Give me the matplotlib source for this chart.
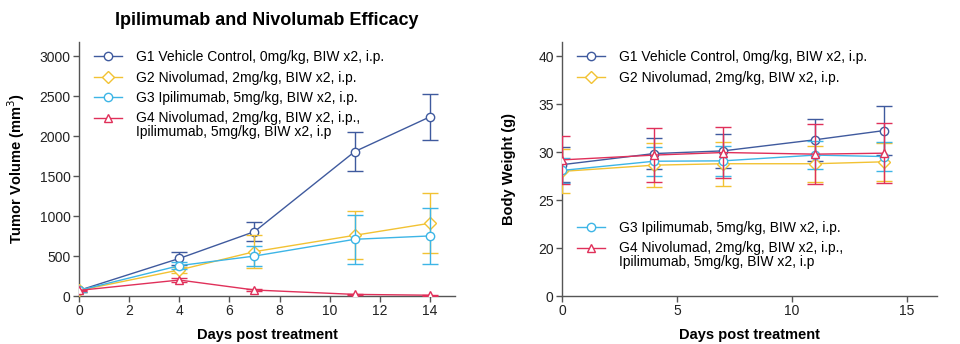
import numpy as np
import matplotlib
matplotlib.use("Agg")
import matplotlib.pyplot as plt
from matplotlib.lines import Line2D
from matplotlib.legend_handler import HandlerLine2D
from matplotlib.transforms import Affine2D

plt.rcParams['font.family'] = ['Liberation Sans', 'DejaVu Sans']

days = [0, 4, 7, 11, 14]
labels = ["G1 Vehicle Control, 0mg/kg, BIW x2, i.p.",
          "G2 Nivolumad, 2mg/kg, BIW x2, i.p.",
          "G3 Ipilimumab, 5mg/kg, BIW x2, i.p.",
          "G4 Nivolumad, 2mg/kg, BIW x2, i.p.,\nIpilimumab, 5mg/kg, BIW x2, i.p"]
colors = ["#3F5A9E", "#F2C233", "#3DB5E6", "#E0305A"]
markers = ["o", "D", "o", "^"]
msizes = [6, 6.5, 6, 6]

# Tumor volume (mm^3)
tv_g1 = [70, 470, 806, 1808, 2243]
tv_g1_err = [20, 85, 115, 245, 290]
tv_g2 = [70, 326, 555, 760, 911]
tv_g2_err = [15, 40, 210, 300, 375]
tv_g3 = [70, 380, 500, 710, 752]
tv_g3_err = [15, 40, 120, 310, 350]
tv_g4 = [70, 200, 75, 20, 10]
tv_g4_err = [10, 30, 15, 5, 5]

# Body weight (g)
bw_g1 = [28.7, 29.86, 30.14, 31.3, 32.26]
bw_g1_err = [1.8, 1.6, 1.8, 2.2, 2.6]
bw_g2 = [28.0, 28.65, 28.8, 28.8, 29.0]
bw_g2_err = [2.3, 2.3, 2.3, 1.9, 2.0]
bw_g3 = [28.1, 29.06, 29.1, 29.7, 29.55]
bw_g3_err = [1.3, 1.5, 1.6, 1.5, 1.5]
bw_g4 = [29.2, 29.7, 29.97, 29.8, 29.9]
bw_g4_err = [2.5, 2.8, 2.7, 3.1, 3.1]

tv = [(tv_g1, tv_g1_err), (tv_g2, tv_g2_err), (tv_g3, tv_g3_err), (tv_g4, tv_g4_err)]
bw = [(bw_g1, bw_g1_err), (bw_g2, bw_g2_err), (bw_g3, bw_g3_err), (bw_g4, bw_g4_err)]


class TopHandler(HandlerLine2D):
    """Place the legend handle at the first line of a two-line label."""
    def __init__(self, dy, **kw):
        super().__init__(**kw)
        self.dy = dy

    def create_artists(self, legend, orig_handle, xdescent, ydescent, width,
                       height, fontsize, trans):
        arts = super().create_artists(legend, orig_handle, xdescent, ydescent,
                                      width, height, fontsize, trans)
        t = Affine2D().translate(0, self.dy) + trans
        for a in arts:
            a.set_transform(t)
        return arts


fig = plt.figure(figsize=(9.6, 3.44), dpi=100)
W, H = 960, 344
ax1 = fig.add_axes([79 / W, 1 - 296 / H, (455 - 79) / W, (296 - 42) / H])
ax2 = fig.add_axes([562 / W, 1 - 296 / H, (937 - 562) / W, (296 - 42) / H])

spine_c = "#555555"
for ax in (ax1, ax2):
    for s in ("top", "right"):
        ax.spines[s].set_visible(False)
    for s in ("left", "bottom"):
        ax.spines[s].set_color(spine_c)
        ax.spines[s].set_linewidth(1.0)
    ax.tick_params(direction="out", length=4, width=1, color=spine_c,
                   labelsize=10, labelcolor="#222222", pad=2)


def proxies():
    return [Line2D([], [], color=c, marker=m, markersize=ms, markerfacecolor="white",
                   markeredgecolor=c, markeredgewidth=1.0, linewidth=1.0)
            for c, m, ms in zip(colors, markers, msizes)]


def draw(ax, data):
    for i, ((y, e), c, m, ms) in enumerate(zip(data, colors, markers, msizes)):
        ax.errorbar(days, y, yerr=e, color=c, marker=m, markersize=ms,
                    markerfacecolor="white", markeredgecolor=c, markeredgewidth=1.0,
                    linewidth=1.0, elinewidth=1.0, capsize=5.5, capthick=1.0,
                    zorder=3 + i)


leg_kw = dict(frameon=False, fontsize=10, handlelength=2.0, handletextpad=1.0,
              borderaxespad=0.2)

draw(ax1, tv)
ax1.set_xlim(0, 15)
ax1.set_ylim(0, 3180)
ax1.set_xticks([0, 2, 4, 6, 8, 10, 12, 14])
ax1.set_yticks([0, 500, 1000, 1500, 2000, 2500, 3000])
ax1.set_xlabel("Days post treatment", fontweight="bold", fontsize=10.5, labelpad=7)
ax1.set_ylabel("Tumor Volume (mm$^3$)", fontweight="bold", fontsize=10.5, labelpad=9)
ax1.set_title("Ipilimumab and Nivolumab Efficacy", fontweight="bold", fontsize=13, pad=12)
p1 = proxies()
lg1 = ax1.legend(handles=p1, labels=labels, loc="upper left", bbox_to_anchor=(0.018, 1.0),
                 labelspacing=0.45, handler_map={p1[3]: TopHandler(5.5)}, **leg_kw)
lg1.get_texts()[3].set_linespacing(1.0)

# segmented y-axis: 0-20 compressed, 20-40 linear
def fwd(y):
    y = np.asarray(y, dtype=float)
    return np.where(y < 20, y / 4.0, y - 15.0)

def inv(t):
    t = np.asarray(t, dtype=float)
    return np.where(t < 5, t * 4.0, t + 15.0)

ax2.set_yscale("function", functions=(fwd, inv))
draw(ax2, bw)
ax2.set_xlim(0, 16.3)
ax2.set_ylim(0, 41.5)
ax2.set_xticks([0, 5, 10, 15])
ax2.set_yticks([0, 20, 25, 30, 35, 40])
ax2.set_yticklabels(["0", "20", "25", "30", "35", "40"])
ax2.yaxis.set_minor_locator(matplotlib.ticker.NullLocator())
ax2.set_xlabel("Days post treatment", fontweight="bold", fontsize=10.5, labelpad=7)
ax2.set_ylabel("Body Weight (g)", fontweight="bold", fontsize=10.5, labelpad=16)
p2 = proxies()
leg_a = ax2.legend(handles=p2[:2], labels=labels[:2], loc="upper left",
                   bbox_to_anchor=(0.018, 1.0), labelspacing=0.45, **leg_kw)
ax2.add_artist(leg_a)
lg2 = ax2.legend(handles=p2[2:], labels=labels[2:], loc="lower left",
                 bbox_to_anchor=(0.018, 0.072), labelspacing=0.45,
                 handler_map={p2[3]: TopHandler(5.5)}, **leg_kw)
lg2.get_texts()[1].set_linespacing(1.0)

fig.savefig("out.png", dpi=100)
